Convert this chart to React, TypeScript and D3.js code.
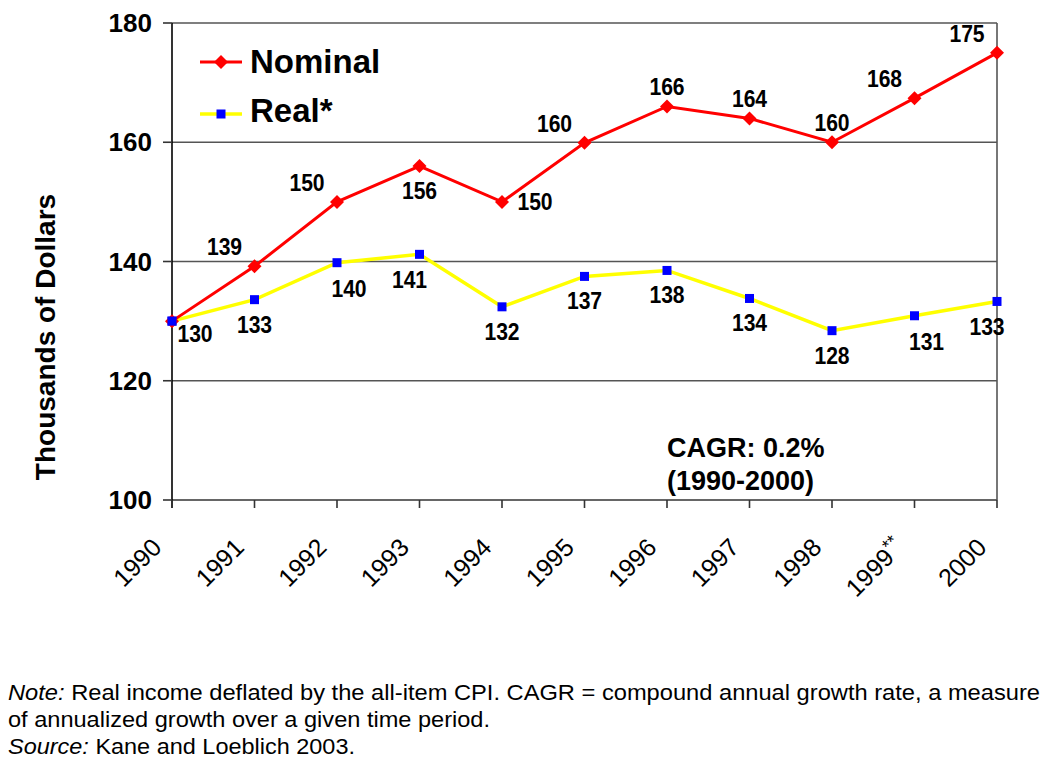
import React from "react";
import * as d3 from "d3";

const years = ["1990", "1991", "1992", "1993", "1994", "1995", "1996", "1997", "1998", "1999**", "2000"];
const nominal = [130, 139.2, 150, 156, 150, 159.9, 166, 164, 160, 167.4, 175];
const real = [130, 133.6, 139.8, 141.2, 132.4, 137.5, 138.5, 133.8, 128.4, 130.9, 133.3];
const nominalLabels = ["", "139", "150", "156", "150", "160", "166", "164", "160", "168", "175"];
const realLabels = ["130", "133", "140", "141", "132", "137", "138", "134", "128", "131", "133"];
const nominalPlace = ["", "nw", "nw", "s", "e", "nw", "n", "n", "n", "nw", "nw"];
const realPlace = ["se", "s", "sse", "ssw", "s", "s", "s", "s", "s", "sse", "ssw"];
const yTicks = [100, 120, 140, 160, 180];
const noteLines = [
  { it: "Note:", rest: " Real income deflated by the all-item CPI. CAGR = compound annual growth rate, a measure" },
  { it: "", rest: "of annualized growth over a given time period." },
  { it: "Source:", rest: " Kane and Loeblich 2003." },
];
const cagrLines = ["CAGR: 0.2%", "(1990-2000)"];

const offsets: Record<string, [number, number]> = {
  n: [0, -19],
  nw: [-30, -19],
  s: [0, 25],
  sse: [12, 26],
  ssw: [-10, 26],
  e: [33, 0],
  se: [23, 13],
};

const FONT = "'Liberation Sans', Arial, Helvetica, sans-serif";

export default function App() {
  const left = 172, right = 997, top = 23, bottom = 500;
  const x = d3.scalePoint<string>().domain(years).range([left, right]);
  const y = d3.scaleLinear().domain([100, 180]).range([bottom, top]);
  const line = d3.line<number>().x((_, i) => x(years[i])!).y((d) => y(d));

  const label = (txt: string, px: number, py: number, place: string, key: string) => {
    if (!txt) return null;
    const [dx, dy] = offsets[place];
    return (
      <text
        key={key}
        transform={`translate(${px + dx},${py + dy}) scale(0.88,1)`}
        textAnchor="middle"
        dominantBaseline="central"
        fontSize={24}
        fontWeight="bold"
        fill="#000"
      >
        {txt}
      </text>
    );
  };

  const diamond = (cx: number, cy: number, k: string, r = 7) => (
    <path key={k} d={`M${cx},${cy - r}L${cx + r},${cy}L${cx},${cy + r}L${cx - r},${cy}Z`} fill="#ff0000" />
  );
  const square = (cx: number, cy: number, k: string, s = 9) => (
    <rect key={k} x={cx - s / 2} y={cy - s / 2} width={s} height={s} fill="#0000ff" />
  );

  const noteLen = [1032, 482, 347];

  return (
    <svg
      width={1050}
      height={773}
      style={{ position: "absolute", left: 0, top: 0, background: "#fff", fontFamily: FONT }}
    >
      <rect x={0} y={0} width={1050} height={773} fill="#fff" />
      {/* gridlines & frame */}
      {yTicks.map((t) => (
        <line key={"g" + t} x1={left} x2={right} y1={y(t)} y2={y(t)} stroke={t === 100 ? "#333" : "#555"} strokeWidth={1.6} />
      ))}
      <line x1={right} x2={right} y1={top} y2={bottom} stroke="#555" strokeWidth={1.6} />
      <line x1={left} x2={left} y1={top} y2={bottom + 8} stroke="#000" strokeWidth={1.6} />
      {yTicks.map((t) => (
        <line key={"yt" + t} x1={left - 9} x2={left} y1={y(t)} y2={y(t)} stroke="#333" strokeWidth={1.6} />
      ))}
      {years.map((yr) => (
        <line key={"xt" + yr} x1={x(yr)} x2={x(yr)} y1={bottom} y2={bottom + 8} stroke="#333" strokeWidth={1.6} />
      ))}
      {/* y tick labels */}
      {yTicks.map((t) => (
        <text key={"yl" + t} x={152} y={y(t)} textAnchor="end" dominantBaseline="central" fontSize={26} fontWeight="bold">
          {t}
        </text>
      ))}
      {/* x tick labels */}
      {years.map((yr) => {
        const m = yr.match(/^(\d+)(\*+)?$/)!;
        return (
          <text
            key={"xl" + yr}
            transform={`translate(${x(yr)! - 9},${bottom + 49}) rotate(-45)`}
            textAnchor="end"
            fontSize={25}
          >
            {m[1]}
            {m[2] ? <tspan dy={-9} fontSize={18}>{m[2]}</tspan> : null}
          </text>
        );
      })}
      {/* y title */}
      <text
        transform={`translate(55,337) rotate(-90)`}
        textAnchor="middle"
        fontSize={28}
        fontWeight="bold"
      >
        Thousands of Dollars
      </text>
      {/* series */}
      <path d={line(real)!} fill="none" stroke="#ffff00" strokeWidth={3.5} />
      <path d={line(nominal)!} fill="none" stroke="#ff0000" strokeWidth={3} />
      {real.map((v, i) => square(x(years[i])!, y(v), "rs" + i))}
      {nominal.map((v, i) => (i === 0 ? null : diamond(x(years[i])!, y(v), "nd" + i)))}
      {diamond(x(years[0])!, y(nominal[0]), "nd0")}
      {square(x(years[0])!, y(real[0]), "rs0b")}
      {nominal.map((v, i) => label(nominalLabels[i], x(years[i])!, y(v), nominalPlace[i], "nl" + i))}
      {real.map((v, i) => label(realLabels[i], x(years[i])!, y(v), realPlace[i], "rl" + i))}
      {/* legend */}
      <line x1={200} x2={242} y1={62} y2={62} stroke="#ff0000" strokeWidth={3} />
      {diamond(221, 62, "lgd", 7)}
      <text x={250} y={73} fontSize={33} fontWeight="bold">Nominal</text>
      <line x1={200} x2={242} y1={114} y2={114} stroke="#ffff00" strokeWidth={3.5} />
      {square(221, 114, "lgs", 9)}
      <text x={250} y={122} fontSize={33} fontWeight="bold">Real*</text>
      {/* CAGR */}
      {cagrLines.map((t, i) => (
        <text key={"c" + i} x={667} y={457 + i * 33} fontSize={27} fontWeight="bold">
          {t}
        </text>
      ))}
      {/* note */}
      {noteLines.map((l, i) => (
        <text
          key={"n" + i}
          x={8}
          y={700 + i * 27}
          fontSize={22}
          textLength={noteLen[i]}
          lengthAdjust="spacingAndGlyphs"
        >
          {l.it ? <tspan fontStyle="italic">{l.it}</tspan> : null}
          {l.rest}
        </text>
      ))}
    </svg>
  );
}
